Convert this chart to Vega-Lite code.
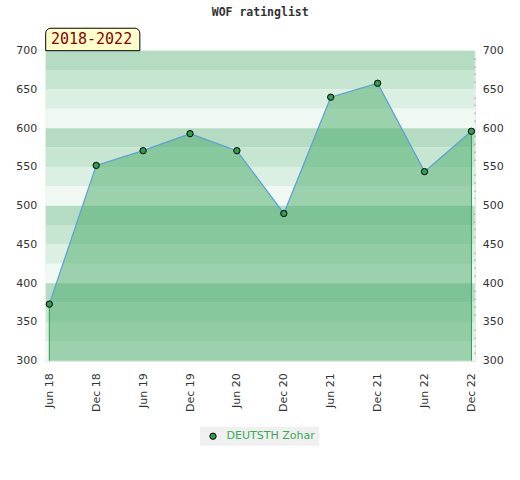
{
  "$schema": "https://vega.github.io/schema/vega-lite/v6.json",
  "autosize": "none",
  "padding": {"left": 45.7, "top": 50.7, "right": 45.3, "bottom": 119.3},
  "width": 429,
  "height": 310,
  "title": {
    "text": "WOF ratinglist",
    "font": "DejaVu Sans Mono",
    "fontSize": 11.5,
    "fontWeight": "bold",
    "color": "#333333",
    "anchor": "middle",
    "offset": 9
  },
  "datasets": {
    "ratings": [
      {"seq": 0, "period": "Jun 18", "rating": 373, "player": "DEUTSTH Zohar"},
      {"seq": 1, "period": "Dec 18", "rating": 552, "player": "DEUTSTH Zohar"},
      {"seq": 2, "period": "Jun 19", "rating": 571, "player": "DEUTSTH Zohar"},
      {"seq": 3, "period": "Dec 19", "rating": 593, "player": "DEUTSTH Zohar"},
      {"seq": 4, "period": "Jun 20", "rating": 571, "player": "DEUTSTH Zohar"},
      {"seq": 5, "period": "Dec 20", "rating": 490, "player": "DEUTSTH Zohar"},
      {"seq": 6, "period": "Jun 21", "rating": 640, "player": "DEUTSTH Zohar"},
      {"seq": 7, "period": "Dec 21", "rating": 658, "player": "DEUTSTH Zohar"},
      {"seq": 8, "period": "Jun 22", "rating": 544, "player": "DEUTSTH Zohar"},
      {"seq": 9, "period": "Dec 22", "rating": 596, "player": "DEUTSTH Zohar"}
    ],
    "bands": [
      {"lo": 675, "hi": 700, "shade": "a"},
      {"lo": 650, "hi": 675, "shade": "b"},
      {"lo": 625, "hi": 650, "shade": "c"},
      {"lo": 600, "hi": 625, "shade": "d"},
      {"lo": 575, "hi": 600, "shade": "a"},
      {"lo": 550, "hi": 575, "shade": "b"},
      {"lo": 525, "hi": 550, "shade": "c"},
      {"lo": 500, "hi": 525, "shade": "d"},
      {"lo": 475, "hi": 500, "shade": "a"},
      {"lo": 450, "hi": 475, "shade": "b"},
      {"lo": 425, "hi": 450, "shade": "c"},
      {"lo": 400, "hi": 425, "shade": "d"},
      {"lo": 375, "hi": 400, "shade": "a"},
      {"lo": 350, "hi": 375, "shade": "b"},
      {"lo": 325, "hi": 350, "shade": "c"},
      {"lo": 300, "hi": 325, "shade": "d"}
    ],
    "period": [{"label": "2018-2022"}]
  },
  "layer": [
    {
      "data": {"name": "bands"},
      "mark": {"type": "rect"},
      "encoding": {
        "y": {
          "field": "lo",
          "type": "quantitative",
          "scale": {"domain": [300, 700], "nice": false, "zero": false},
          "axis": {
            "orient": "left",
            "values": [300, 350, 400, 450, 500, 550, 600, 650, 700],
            "title": null,
            "domain": false,
            "ticks": false,
            "grid": false,
            "labelPadding": 9,
            "labelFont": "DejaVu Sans",
            "labelFontSize": 11,
            "labelColor": "#333333"
          }
        },
        "y2": {"field": "hi"},
        "fill": {
          "field": "shade",
          "type": "nominal",
          "scale": {"domain": ["a", "b", "c", "d"], "range": ["#b3dcc2", "#c6e6d2", "#dbefe2", "#eff8f2"]},
          "legend": null
        }
      }
    },
    {
      "data": {"name": "ratings"},
      "mark": {"type": "area", "color": "#47aa68", "fillOpacity": 0.5},
      "encoding": {
        "x": {
          "field": "seq",
          "type": "quantitative",
          "scale": {"domain": [-0.077, 9.07], "nice": false, "zero": false},
          "title": null,
          "axis": {"values": [0, 1, 2, 3, 4, 5, 6, 7, 8, 9]}
        },
        "y": {"field": "rating", "type": "quantitative", "axis": null},
        "y2": {"datum": 300}
      }
    },
    {
      "data": {"name": "ratings"},
      "transform": [{"filter": "datum.seq === 0 || datum.seq === 9"}],
      "mark": {"type": "rule", "color": "#2e9a4e", "strokeWidth": 1},
      "encoding": {
        "x": {"field": "seq", "type": "quantitative", "title": null, "axis": {"values": [0, 1, 2, 3, 4, 5, 6, 7, 8, 9]}},
        "y": {"field": "rating", "type": "quantitative", "axis": null},
        "y2": {"datum": 300}
      }
    },
    {
      "data": {"name": "ratings"},
      "mark": {"type": "line", "color": "#5b9fd8", "strokeWidth": 1.2},
      "encoding": {
        "x": {"field": "seq", "type": "quantitative", "title": null, "axis": {"values": [0, 1, 2, 3, 4, 5, 6, 7, 8, 9]}},
        "y": {"field": "rating", "type": "quantitative", "axis": null}
      }
    },
    {
      "data": {"name": "ratings"},
      "mark": {"type": "point", "shape": "circle", "filled": true, "size": 40, "stroke": "#000000", "strokeWidth": 1, "opacity": 1},
      "encoding": {
        "x": {"field": "seq", "type": "quantitative", "title": null, "axis": {"values": [0, 1, 2, 3, 4, 5, 6, 7, 8, 9]}},
        "y": {
          "field": "rating",
          "type": "quantitative",
          "axis": {
            "orient": "right",
            "values": [300, 310, 320, 330, 340, 350, 360, 370, 380, 390, 400, 410, 420, 430, 440, 450, 460, 470, 480, 490, 500, 510, 520, 530, 540, 550, 560, 570, 580, 590, 600, 610, 620, 630, 640, 650, 660, 670, 680, 690, 700],
            "labelExpr": "datum.value % 50 === 0 ? datum.label : ''",
            "title": null,
            "domain": false,
            "grid": false,
            "offset": -4,
            "tickSize": 4,
            "tickColor": {"condition": {"test": "datum.value % 50 === 0", "value": "transparent"}, "value": "#000000"},
            "labelPadding": 7.5,
            "labelFont": "DejaVu Sans",
            "labelFontSize": 11,
            "labelColor": "#333333"
          }
        },
        "color": {
          "field": "player",
          "type": "nominal",
          "scale": {"range": ["#2f9e4f"]},
          "legend": {
            "title": null,
            "orient": "none",
            "legendX": 154.3,
            "legendY": 376,
            "fillColor": "#f0f0f0",
            "padding": 4,
            "symbolType": "circle",
            "symbolSize": 40,
            "symbolStrokeColor": "#000000",
            "symbolStrokeWidth": 1,
            "symbolOffset": 3.5,
            "labelOffset": 8,
            "labelFont": "DejaVu Sans",
            "labelFontSize": 11,
            "labelColor": "#3aaa5a"
          }
        }
      }
    },
    {
      "data": {"name": "period"},
      "mark": {"type": "rect", "fill": "#ffffcc", "stroke": "#000000", "strokeWidth": 1, "cornerRadiusTopLeft": 5, "cornerRadiusTopRight": 5},
      "encoding": {
        "x": {"datum": -0.077, "type": "quantitative", "title": null, "axis": {"values": [0, 1, 2, 3, 4, 5, 6, 7, 8, 9]}},
        "x2": {"datum": 1.93},
        "y": {"datum": 700, "type": "quantitative", "axis": null},
        "y2": {"datum": 729}
      }
    },
    {
      "data": {"name": "period"},
      "mark": {"type": "text", "font": "DejaVu Sans Mono", "fontSize": 15, "color": "#8b0000", "align": "center", "baseline": "middle"},
      "encoding": {
        "x": {"datum": 0.9, "type": "quantitative", "title": null, "axis": {"values": [0, 1, 2, 3, 4, 5, 6, 7, 8, 9]}},
        "y": {"datum": 714.5, "type": "quantitative", "axis": null},
        "text": {"field": "label"}
      }
    }
  ],
  "resolve": {"axis": {"y": "independent"}},
  "config": {
    "view": {"stroke": "#dddddd", "strokeWidth": 1},
    "background": "#ffffff",
    "axisX": {
      "labelExpr": "['Jun 18','Dec 18','Jun 19','Dec 19','Jun 20','Dec 20','Jun 21','Dec 21','Jun 22','Dec 22'][datum.value]",
      "labelAngle": 270,
      "labelPadding": 12,
      "domain": false,
      "ticks": false,
      "grid": false,
      "labelFont": "DejaVu Sans",
      "labelFontSize": 11,
      "labelColor": "#333333"
    }
  }
}
